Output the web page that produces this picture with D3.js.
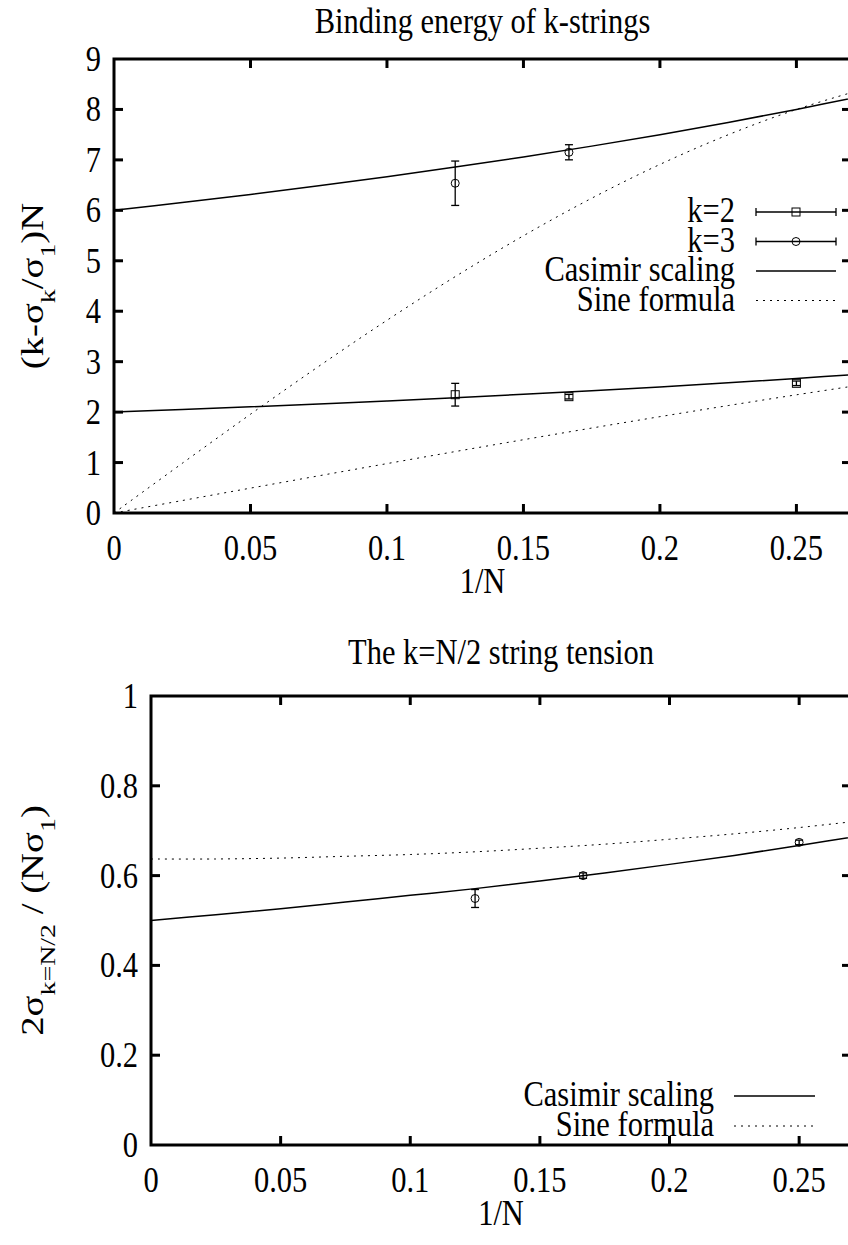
<!DOCTYPE html>
<html><head><meta charset="utf-8">
<script src="https://cdn.jsdelivr.net/npm/d3@7"></script>
<style>body{margin:0;background:#fff}svg{display:block}text{font-family:"Liberation Serif","Times New Roman",serif;fill:#000}</style>
</head><body><svg id="c" width="848" height="1245"></svg>
<script>
// ---- data ----
const xTicks = [0, 0.05, 0.1, 0.15, 0.2, 0.25];
const xTickLabels = ["0", "0.05", "0.1", "0.15", "0.2", "0.25"];
const topYTicks = [0,1,2,3,4,5,6,7,8,9];
const botYTicks = [0, 0.2, 0.4, 0.6, 0.8, 1];
const botYTickLabels = ["0","0.2","0.4","0.6","0.8","1"];
// curve samples
const curveX = [0, 0.025, 0.05, 0.075, 0.1, 0.125, 0.15, 0.175, 0.2, 0.225, 0.25, 0.275];
const casimirK2 = [2.000, 2.051, 2.105, 2.162, 2.222, 2.286, 2.353, 2.424, 2.500, 2.581, 2.667, 2.759];
const casimirK3 = [6.000, 6.154, 6.316, 6.486, 6.667, 6.857, 7.059, 7.273, 7.500, 7.742, 8.000, 8.276];
const sineK2 = [0, 0.247, 0.493, 0.737, 0.979, 1.218, 1.453, 1.684, 1.910, 2.130, 2.343, 2.550];
const sineK3 = [0, 0.985, 1.958, 2.907, 3.820, 4.686, 5.496, 6.240, 6.910, 7.498, 8.000, 8.410];
const casimirHalf = [0.500, 0.513, 0.526, 0.541, 0.556, 0.571, 0.588, 0.606, 0.625, 0.645, 0.667, 0.690];
const sineHalf = [0.637, 0.637, 0.639, 0.643, 0.647, 0.653, 0.661, 0.670, 0.681, 0.693, 0.707, 0.723];
// measured points
const invN = [0.125, 0.16667, 0.25];
const k2Val = [2.345, 2.306, 2.571];
const k2Err = [0.225, 0.045, 0.045];
const k3X = [0.125, 0.16667];
const k3Val = [6.537, 7.151];
const k3Err = [0.44, 0.15];
const halfVal = [0.549, 0.600, 0.674];
const halfErr = [0.02, 0.006, 0.005];

const svg = d3.select("#c");
const FS = 30.5, SUB = 22, SY = 1.2, RIGHT = 851;

function txt(g, x, y, s, anchor){
  return g.append("text").attr("transform", `translate(${x},${y}) scale(1,${SY})`)
    .attr("text-anchor", anchor || "middle").attr("font-size", FS).text(s);
}

function panel(cfg){
  const g = svg.append("g");
  const x = d3.scaleLinear().domain([0, 0.27]).range([cfg.left, RIGHT]);
  const y = d3.scaleLinear().domain(cfg.yDomain).range([cfg.bottom, cfg.top]);
  const clipId = "clip" + cfg.id;
  svg.append("clipPath").attr("id", clipId).append("rect")
    .attr("x", cfg.left).attr("y", cfg.top).attr("width", RIGHT - cfg.left).attr("height", cfg.bottom - cfg.top);
  const tl = 9;
  xTicks.slice(1).forEach(t => {
    g.append("line").attr("x1", x(t)).attr("x2", x(t)).attr("y1", cfg.bottom).attr("y2", cfg.bottom - tl).attr("stroke","#000").attr("stroke-width",3);
    g.append("line").attr("x1", x(t)).attr("x2", x(t)).attr("y1", cfg.top).attr("y2", cfg.top + tl).attr("stroke","#000").attr("stroke-width",3);
  });
  cfg.yTicks.slice(1, -1).forEach(t => {
    g.append("line").attr("x1", cfg.left).attr("x2", cfg.left + tl).attr("y1", y(t)).attr("y2", y(t)).attr("stroke","#000").attr("stroke-width",3);
    g.append("line").attr("x1", RIGHT).attr("x2", RIGHT - tl).attr("y1", y(t)).attr("y2", y(t)).attr("stroke","#000").attr("stroke-width",3);
  });
  xTicks.forEach((t,i) => txt(g, x(t), cfg.bottom + 47, xTickLabels[i]));
  cfg.yTicks.forEach((t,i) => txt(g, cfg.left - 13, y(t) + 12, cfg.yLabels[i], "end"));
  g.append("rect").attr("x", cfg.left).attr("y", cfg.top).attr("width", RIGHT - cfg.left).attr("height", cfg.bottom - cfg.top)
    .attr("fill","none").attr("stroke","#000").attr("stroke-width",3);
  txt(g, (cfg.left + RIGHT)/2, cfg.bottom + 80, "1/N");
  txt(g, (cfg.left + RIGHT)/2, cfg.titleY, cfg.title);
  const yl = g.append("text").attr("transform", `translate(${cfg.ylabX},${(cfg.top+cfg.bottom)/2}) rotate(-90) scale(1.27,1)`)
    .attr("text-anchor","middle").attr("font-size",FS);
  cfg.ylab(yl);
  return {g, x, y, clipId};
}

function curve(p, xs, ys, dashed){
  const line = d3.line().x((d,i)=>p.x(xs[i])).y(d=>p.y(d)).curve(d3.curveCatmullRom);
  p.g.append("path").attr("d", line(ys)).attr("clip-path", `url(#${p.clipId})`)
    .attr("fill","none").attr("stroke","#000").attr("stroke-width", dashed ? 1 : 1.5)
    .attr("stroke-dasharray", dashed ? "2,5" : null);
}
function errbar(p, xv, yv, ev){
  const cx = p.x(xv), y1 = p.y(yv - ev), y2 = p.y(yv + ev);
  p.g.append("line").attr("x1",cx).attr("x2",cx).attr("y1",y1).attr("y2",y2).attr("stroke","#000").attr("stroke-width",1.3);
  [y1,y2].forEach(yy => p.g.append("line").attr("x1",cx-4).attr("x2",cx+4).attr("y1",yy).attr("y2",yy).attr("stroke","#000").attr("stroke-width",1.3));
}
function marker(g, cx, cy, type){
  if(type === "square") g.append("rect").attr("x",cx-4).attr("y",cy-4).attr("width",8).attr("height",8).attr("fill","none").attr("stroke","#000").attr("stroke-width",1);
  else g.append("circle").attr("cx",cx).attr("cy",cy).attr("r",4).attr("fill","none").attr("stroke","#000").attr("stroke-width",1);
}
function legend(g, rows, textX, x1, x2, y0, dy){
  rows.forEach((r,i) => {
    const yy = y0 + i*dy;
    txt(g, textX, yy + 10, r.label, "end");
    if(r.type === "err"){
      g.append("line").attr("x1",x1).attr("x2",x2).attr("y1",yy).attr("y2",yy).attr("stroke","#000").attr("stroke-width",1.3);
      [x1,x2].forEach(xx => g.append("line").attr("x1",xx).attr("x2",xx).attr("y1",yy-4).attr("y2",yy+4).attr("stroke","#000").attr("stroke-width",1.3));
      marker(g, (x1+x2)/2, yy, r.marker);
    } else {
      g.append("line").attr("x1",x1).attr("x2",x2).attr("y1",yy).attr("y2",yy).attr("stroke","#000")
        .attr("stroke-width", r.dashed ? 1 : 1.5).attr("stroke-dasharray", r.dashed ? "2,5" : null);
    }
  });
}

// ---- top panel ----
const p1 = panel({id:1, left:114, top:59, bottom:513, yDomain:[0,9], yTicks: topYTicks, yLabels: topYTicks.map(String),
  title:"Binding energy of k-strings", titleY: 33, ylabX: 43,
  ylab: t => { t.append("tspan").text("(k-σ"); t.append("tspan").attr("baseline-shift","sub").attr("font-size",SUB).text("k");
    t.append("tspan").text("/σ"); t.append("tspan").attr("baseline-shift","sub").attr("font-size",SUB).text("1"); t.append("tspan").text(")N"); }});
curve(p1, curveX, casimirK2, false);
curve(p1, curveX, casimirK3, false);
curve(p1, curveX, sineK2, true);
curve(p1, curveX, sineK3, true);
invN.forEach((v,i) => { errbar(p1, v, k2Val[i], k2Err[i]); marker(p1.g, p1.x(v), p1.y(k2Val[i]), "square"); });
k3X.forEach((v,i) => { errbar(p1, v, k3Val[i], k3Err[i]); marker(p1.g, p1.x(v), p1.y(k3Val[i]), "circle"); });
legend(p1.g, [{label:"k=2", type:"err", marker:"square"},{label:"k=3", type:"err", marker:"circle"},
  {label:"Casimir scaling", type:"line"},{label:"Sine formula", type:"line", dashed:true}], 735, 756, 836, 212, 29.5);

// ---- bottom panel ----
const p2 = panel({id:2, left:151, top:696, bottom:1145, yDomain:[0,1], yTicks: botYTicks, yLabels: botYTickLabels,
  title:"The  k=N/2 string tension", titleY: 664, ylabX: 43,
  ylab: t => { t.append("tspan").text("2σ"); t.append("tspan").attr("baseline-shift","sub").attr("font-size",SUB).text("k=N/2");
    t.append("tspan").text(" / (Nσ"); t.append("tspan").attr("baseline-shift","sub").attr("font-size",SUB).text("1"); t.append("tspan").text(")"); }});
curve(p2, curveX, casimirHalf, false);
curve(p2, curveX, sineHalf, true);
invN.forEach((v,i) => { errbar(p2, v, halfVal[i], halfErr[i]); marker(p2.g, p2.x(v), p2.y(halfVal[i]), "circle"); });
legend(p2.g, [{label:"Casimir scaling", type:"line"},{label:"Sine formula", type:"line", dashed:true}], 714, 734, 815, 1096, 30);
</script></body></html>
